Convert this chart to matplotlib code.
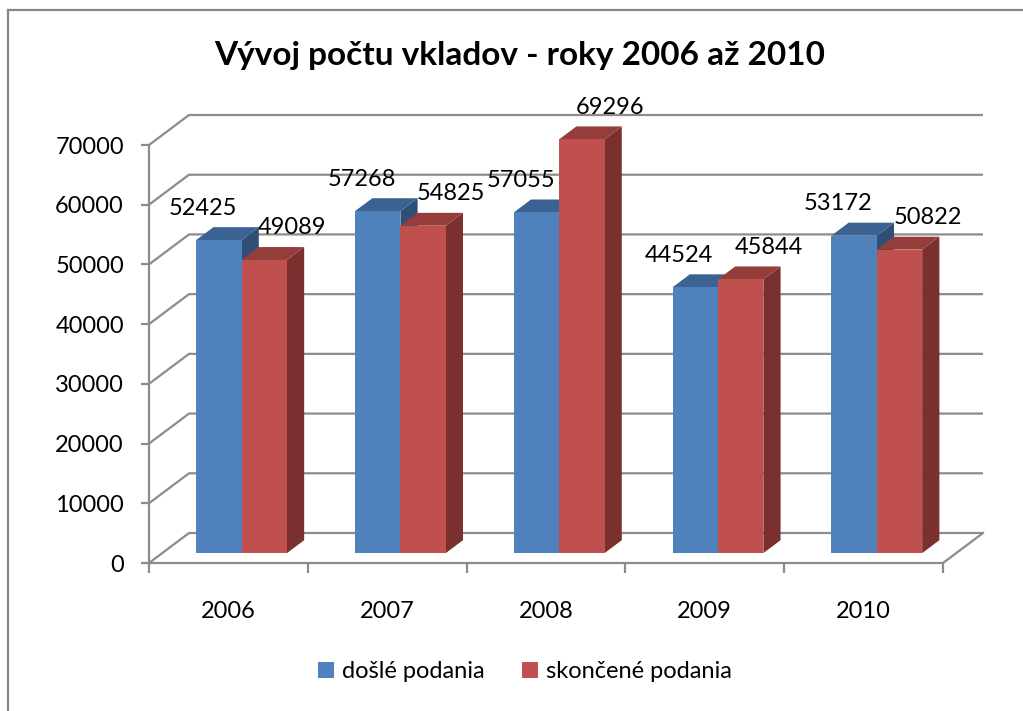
import matplotlib
matplotlib.use("Agg")
import matplotlib.pyplot as plt
from matplotlib.patches import Polygon, Patch
from matplotlib.lines import Line2D

categories = ["2006", "2007", "2008", "2009", "2010"]
series_names = ["došlé podania", "skončené podania"]
dosle = [52425, 57268, 57055, 44524, 53172]
skoncene = [49089, 54825, 69296, 45844, 50822]
yticks = [0, 10000, 20000, 30000, 40000, 50000, 60000, 70000]
title = "Vývoj počtu vkladov - roky 2006 až 2010"

front_cols = ["#4F81BD", "#C0504D"]
top_cols = ["#3A6292", "#943D3A"]
side_cols = ["#2F4F77", "#7A302E"]
grid_col = "#8C8C8C"

W, H = 1023, 711
fig = plt.figure(figsize=(W / 100, H / 100), dpi=100)
plt.rcParams['font.family'] = ['Lato', 'DejaVu Sans']

# axes: front plane x [-0.5,4.5] -> px 149..943, y [0,70000] -> px 563..145
left, right, top_px, bot_px = 149, 943, 145, 563
ax = fig.add_axes([left / W, 1 - bot_px / H, (right - left) / W, (bot_px - top_px) / H])
n = len(categories)
ax.set_xlim(-0.5, n - 0.5)
ax.set_ylim(0, 70000)
for s in ax.spines.values():
    s.set_visible(False)

px_x = (n) / (right - left)           # data units per pixel x
px_y = 70000 / (bot_px - top_px)      # data units per pixel y
Dx, Dy = 40 * px_x, 30 * px_y          # full depth offset

# gridlines (back wall + left wall diagonals)
for v in yticks:
    ax.plot([-0.5, -0.5 + Dx, n - 0.5 + Dx], [v, v + Dy, v + Dy],
            color=grid_col, lw=1.6, clip_on=False, zorder=1, solid_capstyle='butt')
# floor right edge and front axis
ax.plot([-0.5, n - 0.5, n - 0.5 + Dx], [0, 0, Dy], color=grid_col, lw=1.6,
        clip_on=False, zorder=1)
ax.plot([-0.5, -0.5], [0, 70000], color=grid_col, lw=1.6, clip_on=False, zorder=1)

# bars
w = 0.2857
f0, f1 = 0.33, 0.76
data = [dosle, skoncene]
for i in range(n):
    for s in range(2):
        v = data[s][i]
        x0 = i - 0.5 + (1 - 2 * w) / 2 + s * w
        x1 = x0 + w
        ox0, oy0 = f0 * Dx, f0 * Dy
        ox1, oy1 = f1 * Dx, f1 * Dy
        z = 3 + i * 3 + s
        side = Polygon([(x1 + ox0, oy0), (x1 + ox0, v + oy0), (x1 + ox1, v + oy1), (x1 + ox1, oy1)],
                       closed=True, facecolor=side_cols[s], edgecolor='none', clip_on=False, zorder=z)
        topp = Polygon([(x0 + ox0, v + oy0), (x1 + ox0, v + oy0), (x1 + ox1, v + oy1), (x0 + ox1, v + oy1)],
                       closed=True, facecolor=top_cols[s], edgecolor='none', clip_on=False, zorder=z)
        front = Polygon([(x0 + ox0, oy0), (x1 + ox0, oy0), (x1 + ox0, v + oy0), (x0 + ox0, v + oy0)],
                        closed=True, facecolor=front_cols[s], edgecolor='none', clip_on=False, zorder=z)
        ax.add_patch(side)
        ax.add_patch(topp)
        ax.add_patch(front)
        dxoff = -16 if s == 0 else 28
        ax.annotate(str(v), xy=((x0 + x1) / 2 + ox0, v + oy0), xytext=(dxoff, 32),
                    textcoords='offset pixels', ha='center', va='center',
                    fontsize=17, color='#000000', zorder=50, annotation_clip=False)

# y ticks
ax.set_yticks(yticks)
ax.set_yticklabels([str(t) for t in yticks], fontsize=17)
ax.tick_params(axis='y', length=6, width=1.6, color=grid_col, pad=12, direction='out')
# x ticks: labels at centers, marks at boundaries
ax.set_xticks(range(n))
ax.set_xticklabels(categories, fontsize=17)
ax.tick_params(axis='x', which='major', length=0, pad=27)
ax.set_xticks([i - 0.5 for i in range(n + 1)], minor=True)
ax.tick_params(axis='x', which='minor', length=7, width=1.6, color=grid_col, direction='out')

# title
fig.text(520 / W, 1 - 55 / H, title, ha='center', va='center', fontsize=24,
         fontweight='bold', color='#000000')

# legend
handles = [Patch(facecolor=front_cols[k], edgecolor='none') for k in range(2)]
fig.legend(handles, series_names, loc='center', bbox_to_anchor=(525 / W, 1 - 672 / H),
           ncol=2, frameon=False, fontsize=17, handlelength=0.65, handleheight=0.65,
           handletextpad=0.35, columnspacing=1.6)

# outer border
fig.add_artist(Line2D([8 / W, 8 / W], [0, 1 - 10 / H], color='#868686', lw=1.6, transform=fig.transFigure))
fig.add_artist(Line2D([8 / W, 1], [1 - 10 / H, 1 - 10 / H], color='#868686', lw=1.6, transform=fig.transFigure))

fig.savefig("out.png", dpi=100)
